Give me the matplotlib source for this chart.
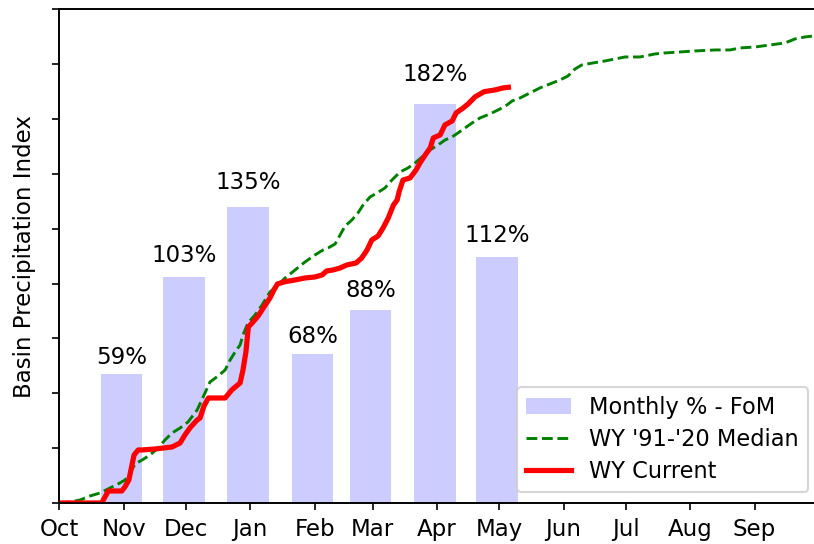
import matplotlib
matplotlib.use("Agg")
import matplotlib.pyplot as plt
from matplotlib.patches import Patch
from matplotlib.lines import Line2D

# ---- data ----
month_labels = ["Oct", "Nov", "Dec", "Jan", "Feb", "Mar", "Apr", "May", "Jun", "Jul", "Aug", "Sep"]
month_start_days = [0, 31, 61, 92, 123, 151, 182, 212, 243, 273, 304, 335]

bar_months = ["Nov", "Dec", "Jan", "Feb", "Mar", "Apr", "May"]
bar_days = [30, 60, 91, 122, 150, 181, 211]
monthly_pct = [59, 103, 135, 68, 88, 182, 112]

median_days = [0, 5.16, 9.98, 14.8, 19.6, 24.4, 28.3, 31.7, 34.1, 36.5,
               39.9, 43.7, 47.6, 50.9, 54.3, 58.2, 62.0, 66.4, 69.3, 72.6,
               76.5, 79.9, 82.3, 84.7, 87.1, 88.5, 90.9, 94.3, 97.7, 101.5,
               105.4, 108.8, 113.6, 118.4, 123.2, 127.1, 129.5, 132.9, 135.3, 137.7,
               141.0, 143.9, 146.4, 149.7, 153.1, 156.9, 160.3, 164.2, 168.0, 171.4,
               174.8, 178.6, 182.5, 185.9, 189.2, 192.1, 195.5, 198.9, 202.7, 207.5,
               212.4, 215.7, 218.2, 222.0, 226.8, 231.6, 236.4, 241.3, 245.1, 248.5,
               251.8, 257.2, 263.0, 267.8, 272.6, 279.8, 287.1, 291.9, 299.1, 306.4,
               316.0, 323.2, 328.0, 335.3, 342.5, 349.7, 354.5, 359.4, 363.7, 365]
median_vals = [0, 0.21, 0.64, 1.5, 2.14, 3.21, 4.07, 4.93, 6.42, 8.35,
               9.21, 10.28, 11.78, 13.49, 14.99, 16.06, 17.34, 19.91, 22.7, 25.91,
               27.19, 28.48, 30.62, 32.33, 33.83, 35.97, 38.54, 40.26, 42.4, 45.18,
               46.68, 48.18, 49.89, 51.61, 53.1, 54.18, 54.6, 55.46, 57.39, 59.31,
               60.6, 62.1, 63.81, 65.52, 66.38, 67.45, 69.16, 70.88, 71.73, 72.81,
               74.09, 75.59, 76.66, 77.73, 78.37, 79.23, 80.3, 81.37, 82.44, 83.3,
               84.37, 85.22, 86.08, 86.72, 87.79, 88.87, 89.72, 90.58, 91.43, 92.93,
               93.79, 94.22, 94.65, 95.07, 95.5, 95.5, 96.15, 96.36, 96.57, 96.79,
               97.0, 97.0, 97.43, 97.64, 98.07, 98.5, 99.36, 99.79, 100.0, 100.2]

current_days = [0, 20.4, 23.6, 30.1, 31.6, 33.5, 36.0, 38.0, 39.7, 46.1,
                54.3, 58.2, 60.5, 62.9, 66.4, 67.8, 69.7, 71.8, 79.9, 83.1,
                87.1, 88.5, 89.9, 91.1, 92.9, 95.8, 98.6, 101.5, 103.4, 105.1,
                108.8, 113.6, 118.4, 123.2, 126.6, 128.8, 131.9, 135.3, 138.5, 143.0,
                145.7, 148.3, 150.6, 153.6, 156.0, 158.5, 161.0, 162.8, 163.7, 165.6,
                169.0, 171.9, 173.8, 176.3, 178.7, 180.2, 183.5, 185.8, 189.3, 191.2,
                194.6, 197.0, 200.3, 204.7, 210.0, 213.8, 216.4]
current_vals = [0, 0, 2.57, 2.57, 3.43, 4.93, 10.28, 11.35, 11.35, 11.56,
                11.99, 12.85, 14.56, 16.06, 17.77, 18.2, 20.77, 22.48, 22.48, 24.2,
                25.7, 28.48, 32.33, 37.69, 38.54, 40.04, 41.97, 43.9, 45.61, 46.9,
                47.39, 47.75, 48.18, 48.39, 48.82, 49.68, 49.89, 50.32, 50.96, 51.39,
                52.46, 54.18, 56.32, 57.17, 58.89, 61.03, 63.81, 64.88, 66.6, 69.16,
                69.59, 71.31, 72.81, 74.52, 76.02, 78.16, 78.8, 80.94, 81.8, 83.51,
                84.58, 85.44, 86.94, 88.07, 88.44, 88.87, 89.01]

# ---- figure ----
plt.rcParams["font.family"] = ["DejaVu Sans"]
plt.rcParams["font.size"] = 10.5
DPI = 150
fig = plt.figure(figsize=(814 / DPI, 544 / DPI), dpi=DPI)
ax = fig.add_axes([0.0729, 0.0754, 0.9305, 0.9072])

ax.bar(bar_days, monthly_pct, width=20, color="blue", alpha=0.2, zorder=1)
for d, p in zip(bar_days, monthly_pct):
    ax.text(d, p * 1.05 + 1.5, f"{p}%", ha="center", va="baseline", fontsize=11)

ax.set_xlim(0, 365)
ax.set_ylim(0, 225)
ax.set_yticks(range(0, 226, 25))
ax.set_yticklabels([])
ax.set_xticks(month_start_days)
ax.set_xticklabels(month_labels, fontsize=11)
ax.set_ylabel("Basin Precipitation Index", fontsize=11)

ax2 = ax.twinx()
ax2.plot(median_days, median_vals, color="green", linestyle="--", lw=1.4)
ax2.plot(current_days, current_vals, color="red", lw=2.5)
ax2.set_ylim(0, 105.67)
ax2.set_yticks([])
ax2.set_xlim(0, 365)

handles = [Patch(facecolor="blue", alpha=0.2),
           Line2D([], [], color="green", linestyle="--", lw=1.4),
           Line2D([], [], color="red", lw=2.5)]
labels = ["Monthly % - FoM", "WY '91-'20 Median", "WY Current"]
ax2.legend(handles, labels, loc="lower right", fontsize=10.8, labelspacing=0.4,
           bbox_to_anchor=(808 / 814, (544 - 492) / 544),
           bbox_transform=fig.transFigure, borderaxespad=0)

fig.savefig("out.png", dpi=DPI)
